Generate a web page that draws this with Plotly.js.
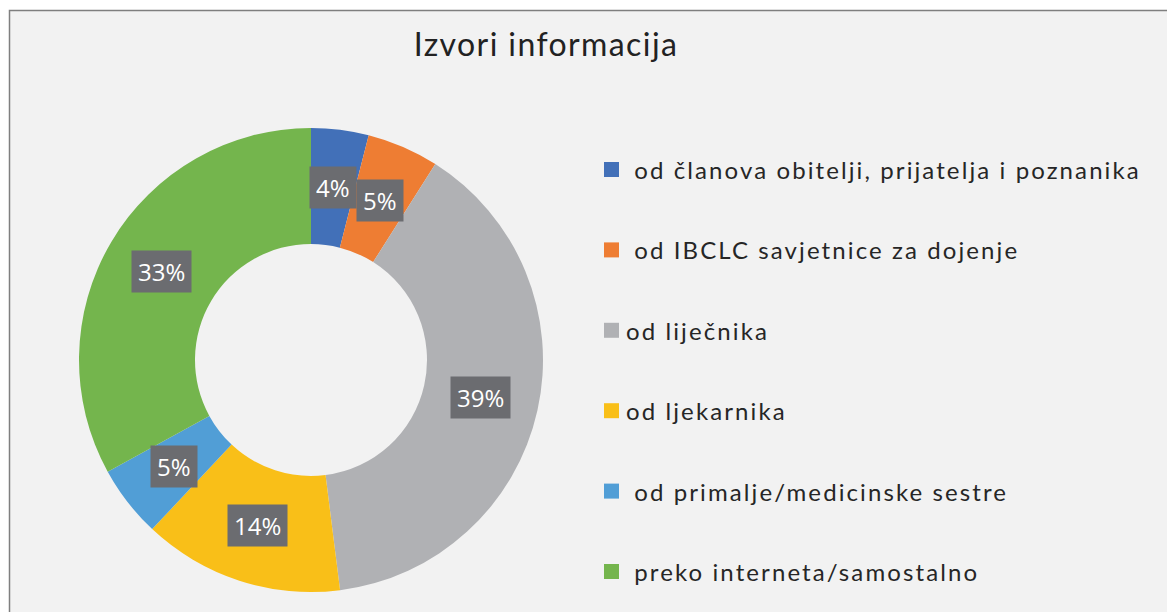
<!DOCTYPE html>
<html>
<head>
<meta charset="utf-8">
<script src="https://cdn.plot.ly/plotly-3.0.1.min.js"></script>
<style>
html,body{margin:0;padding:0;background:#fff;}
#chart{width:1167px;height:612px;}
.gtitle{letter-spacing:1.4px;}
text.annotation-text[style*="Lato"]{letter-spacing:2.1px;}
</style>
</head>
<body>
<div id="chart"></div>
<script>
// ---- data ----
const chartTitle = "Izvori informacija";
const categories = [
  "\u00a0od članova obitelji, prijatelja i poznanika",
  "\u00a0od IBCLC savjetnice za dojenje",
  "od liječnika",
  "od ljekarnika",
  "\u00a0od primalje/medicinske sestre",
  "\u00a0preko interneta/samostalno"
];
const values = [4, 5, 39, 14, 5, 33];
const colors = ["#4270b8", "#ee7d33", "#b0b1b4", "#f9bf18", "#519ed6", "#74b54d"];

// ---- geometry (pixels) ----
const W = 1167, H = 612;
const cx = 311, cy = 360, R = 232, hole = 0.5;

const total = values.reduce((a, b) => a + b, 0);
const annotations = [];
let acc = 0;
const midR = R * (1 + hole) / 2;
values.forEach((v, i) => {
  const mid = (acc + v / 2) / total * 2 * Math.PI;
  acc += v;
  const px = cx + midR * Math.sin(mid);
  const py = cy - midR * Math.cos(mid);
  annotations.push({
    x: px / W, y: 1 - py / H, xref: "paper", yref: "paper",
    text: Math.round(v / total * 100) + "%", showarrow: false,
    font: {family: "Open Sans, sans-serif", size: 24, color: "#ffffff"},
    bgcolor: "#6b6c70", borderpad: 6, height: 29,
    xanchor: "center", yanchor: "middle"
  });
});

// legend as annotations + squares
const shapes = [{
  type: "rect", xref: "paper", yref: "paper", layer: "below",
  x0: 9.5 / W, x1: 1.01, y0: -0.01, y1: 1 - 10.5 / H,
  fillcolor: "#f2f2f2", line: {color: "#7f7f7f", width: 1.5}
}];
const legY0 = 169.5, legStep = 80.4, legX = 604, sq = 15;
categories.forEach((c, i) => {
  const y = legY0 + i * legStep;
  shapes.push({
    type: "rect", xref: "paper", yref: "paper",
    x0: legX / W, x1: (legX + sq) / W,
    y0: 1 - (y + sq / 2) / H, y1: 1 - (y - sq / 2) / H,
    fillcolor: colors[i], line: {width: 0}
  });
  annotations.push({
    x: (legX + sq + 5) / W, y: 1 - y / H, xref: "paper", yref: "paper",
    text: c, showarrow: false, xanchor: "left", yanchor: "middle",
    font: {family: "Lato, sans-serif", size: 24, color: "#262626"}
  });
});

const trace = {
  type: "pie",
  labels: categories,
  values: values,
  hole: hole,
  sort: false,
  direction: "clockwise",
  rotation: 0,
  textinfo: "none",
  marker: {colors: colors, line: {width: 0}},
  domain: {x: [(cx - R) / W, (cx + R) / W], y: [1 - (cy + R) / H, 1 - (cy - R) / H]},
  showlegend: false
};

const layout = {
  width: W, height: H,
  margin: {l: 0, r: 0, t: 0, b: 0},
  paper_bgcolor: "#ffffff",
  title: {text: chartTitle, x: 546 / W, xanchor: "center", y: 1 - 45 / H, yanchor: "middle",
          font: {family: "Lato, sans-serif", size: 32, color: "#222222"}},
  shapes: shapes,
  annotations: annotations,
  showlegend: false
};

Plotly.newPlot("chart", [trace], layout, {displayModeBar: false, staticPlot: true});
</script>
</body>
</html>
